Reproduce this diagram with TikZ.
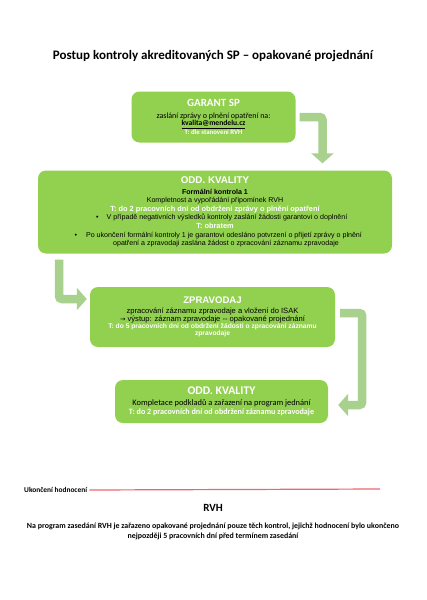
\documentclass[tikz,border=0pt]{standalone}
\usepackage{fontspec}
\setmainfont{Carlito}
\newfontfamily\arialf{Liberation Sans}
\newfontfamily\dejavu{DejaVu Sans}
\usetikzlibrary{arrows.meta}
\definecolor{boxgreen}{RGB}{146,208,80}
\definecolor{arrgreen}{RGB}{169,209,142}
\definecolor{redline}{RGB}{236,104,112}
\tikzset{
  box/.style={fill=boxgreen, rounded corners=8pt, align=center, inner sep=0pt},
  bigarrow/.style={draw=arrgreen, line width=8.5pt, rounded corners=3pt,
    -{Triangle[width=22pt,length=10pt]}},
  plain/.style={inner sep=0pt, align=center},
}
\begin{document}
\begin{tikzpicture}[x=1pt,y=-1pt]
\useasboundingbox (0,0) rectangle (426,600);
\fill[white] (0,0) rectangle (426,600);

\node[plain, font=\bfseries\fontsize{13}{15}\selectfont] (title) at (213,56)
  {Postup kontroly akreditovaných SP -- opakované projednání};

\node[box, minimum width=164pt, minimum height=51pt,
  font=\fontsize{8}{7}\selectfont] (g) at (213.5,117) {%
  {\color{white}\bfseries\fontsize{11}{12}\selectfont GARANT SP}\\[5pt]
  zaslání zprávy o plnění opatření na:\\
  {\fontsize{7.6}{7}\selectfont\textbf{\underline{kvalita@mendelu.cz}}}\\
  {\color{white}\bfseries\fontsize{6.8}{7}\selectfont T: dle stanovení RVH}};

\node[box, minimum width=354pt, minimum height=83pt,
  font=\arialf\fontsize{7.1}{8.6}\selectfont] (q1) at (215,212) {%
  {\color{white}\bfseries\fontsize{9.8}{11}\selectfont ODD. KVALITY}\\[2pt]
  \textbf{Formální kontrola 1}\\
  Kompletnost a vypořádání připomínek RVH\\
  {\color{white}\bfseries\fontsize{7.4}{8.6}\selectfont T: do 2 pracovních dní od obdržení zprávy o plnění opatření}\\
  \hspace*{24pt}\llap{•\hspace{8pt}}V případě negativních výsledků kontroly zaslání žádosti garantovi o doplnění\\
  {\color{white}\bfseries\fontsize{7.4}{8.6}\selectfont T: obratem}\\
  \hspace*{18pt}\llap{•\hspace{9pt}}Po ukončení formální kontroly 1 je garantovi odesláno potvrzení o přijetí zprávy o plnění\\
  \hspace*{22pt}opatření a zpravodaji zaslána žádost o zpracování záznamu zpravodaje};

\node[box, minimum width=245pt, minimum height=60pt,
  font=\arialf\fontsize{7.6}{7.3}\selectfont] (z) at (212.5,317) {%
  {\color{white}\bfseries\fontsize{9.6}{11}\selectfont ZPRAVODAJ}\\[3pt]
  zpracování záznamu zpravodaje a vložení do ISAK\\
  {\dejavu\fontsize{6.5}{6}\selectfont →} výstup: záznam zpravodaje -- opakované projednání\\
  {\color{white}\bfseries\fontsize{6.7}{7.3}\selectfont T: do 5 pracovních dní od obdržení žádosti o zpracování záznamu}\\
  {\color{white}\bfseries\fontsize{6.7}{7.3}\selectfont zpravodaje}};

\node[box, minimum width=213pt, minimum height=43pt,
  font=\fontsize{8.4}{9}\selectfont] (o4) at (221.5,401.5) {%
  {\color{white}\bfseries\fontsize{11.7}{12}\selectfont ODD. KVALITY}\\[2pt]
  Kompletace podkladů a zařazení na program jednání\\
  {\color{white}\bfseries\fontsize{8.1}{9}\selectfont T: do 2 pracovních dní od obdržení záznamu zpravodaje}};

\draw[bigarrow, shorten <=4pt, shorten >=7pt] (g.east) -| ([xshift=107.5pt]q1.north);
\draw[bigarrow, shorten <=6pt, shorten >=3pt] ([xshift=-156pt]q1.south) |- ([yshift=18pt]z.west);
\draw[bigarrow, shorten <=5pt, shorten >=10pt] ([yshift=4pt]z.east) -- ++(27,0) |- ([yshift=-3.5pt]o4.east);

\node[plain, anchor=west, font=\bfseries\fontsize{7.4}{8}\selectfont] (uk) at (24,490) {Ukončení hodnocení};
\coordinate (lineend) at (380,489);
\draw[redline, line width=1.2pt] ([xshift=2pt]uk.east) -- (lineend);

\node[plain, font=\bfseries\fontsize{11}{12}\selectfont] (rvh) at (213,508) {RVH};
\node[plain, font=\bfseries\fontsize{7.9}{10}\selectfont] (note) at (213,531) {%
  Na program zasedání RVH je zařazeno opakované projednání pouze těch kontrol, jejichž hodnocení bylo ukončeno\\
  nejpozději 5 pracovních dní před termínem zasedání};
\end{tikzpicture}
\end{document}
